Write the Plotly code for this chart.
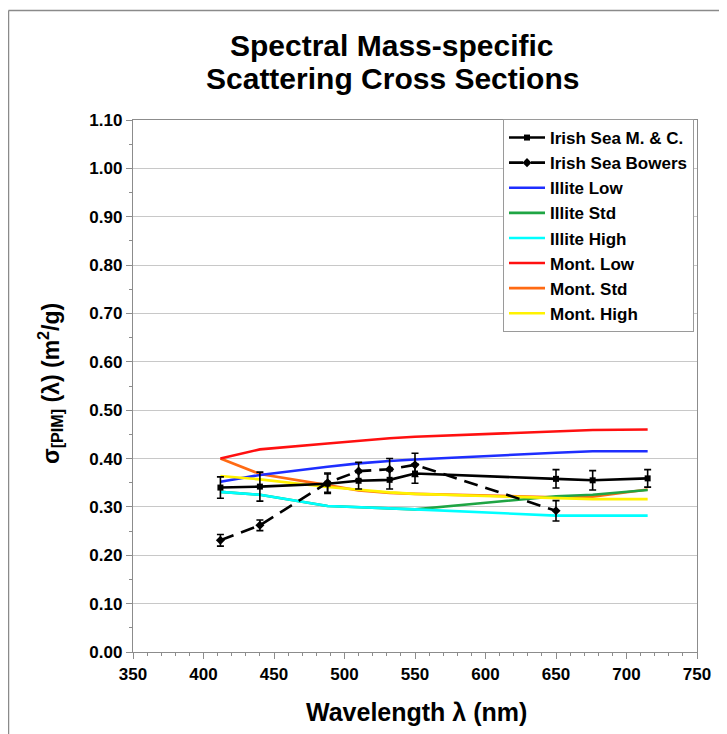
import plotly.graph_objects as go

# ---- data ----
wl = [412, 440, 488, 510, 532, 550, 650, 676, 715]
mc_vals = [0.340, 0.342, 0.348, 0.354, 0.356, 0.369, 0.358, 0.355, 0.359]
mc_err = [0.022, 0.030, 0.020, 0.017, 0.019, 0.020, 0.019, 0.020, 0.018]

wl_bowers = [412, 440, 488, 510, 532, 550, 650]
bowers_vals = [0.231, 0.262, 0.350, 0.374, 0.378, 0.387, 0.292]
bowers_err = [0.012, 0.011, 0.020, 0.018, 0.022, 0.024, 0.021]

illite_low = [0.352, 0.366, 0.383, 0.390, 0.395, 0.398, 0.412, 0.415, 0.415]
illite_std = [0.331, 0.325, 0.302, 0.299, 0.297, 0.295, 0.322, 0.325, 0.335]
illite_high = [0.331, 0.325, 0.302, 0.299, 0.297, 0.295, 0.282, 0.282, 0.282]
mont_low = [0.400, 0.419, 0.431, 0.437, 0.442, 0.445, 0.457, 0.459, 0.460]
mont_std = [0.400, 0.368, 0.345, 0.334, 0.329, 0.327, 0.320, 0.321, 0.336]
mont_high = [0.364, 0.357, 0.341, 0.335, 0.330, 0.327, 0.318, 0.316, 0.316]

x_ticks = [350, 400, 450, 500, 550, 600, 650, 700, 750]
title_lines = ["Spectral Mass-specific", "Scattering Cross Sections"]

FONT = "Liberation Sans, Arial, sans-serif"

fig = go.Figure()

# draw order (later on top); legend order via legendrank
model_series = [
    ("Mont. Std", mont_std, "#FF6A13", 7),
    ("Illite Std", illite_std, "#1FA544", 4),
    ("Illite High", illite_high, "#00FFFF", 5),
    ("Illite Low", illite_low, "#1E2EFF", 3),
    ("Mont. Low", mont_low, "#FF1010", 6),
    ("Mont. High", mont_high, "#FFF200", 8),
]
for name, vals, col, rank in model_series:
    fig.add_trace(go.Scatter(
        x=wl, y=vals, mode="lines", name=name,
        line=dict(color=col, width=2.6),
        legendrank=rank,
    ))

fig.add_trace(go.Scatter(
    x=wl_bowers, y=bowers_vals, mode="lines+markers", name="Irish Sea Bowers",
    line=dict(color="black", width=2.6, dash="14px,8px"),
    marker=dict(symbol="diamond", size=7, color="black"),
    error_y=dict(type="data", array=bowers_err, color="black", thickness=1.6, width=3.5),
    legendrank=2,
))
fig.add_trace(go.Scatter(
    x=wl, y=mc_vals, mode="lines+markers", name="Irish Sea M. &amp; C.",
    line=dict(color="black", width=2.6),
    marker=dict(symbol="square", size=6, color="black"),
    error_y=dict(type="data", array=mc_err, color="black", thickness=1.6, width=3.5),
    legendrank=1,
))

axis_common = dict(
    showline=True, linecolor="#8c8c8c", linewidth=1.3, mirror=True,
    ticks="outside", tickcolor="#8c8c8c", ticklen=6, tickwidth=1,
    tickfont=dict(family=FONT, size=17, color="black", weight="bold"),
    zeroline=False,
)

fig.update_xaxes(
    range=[350, 750], tickvals=x_ticks, showgrid=False,
    minor=dict(dtick=10, ticks="outside", ticklen=3, tickcolor="#8c8c8c", showgrid=False),
    **axis_common,
)
fig.update_yaxes(
    range=[0, 1.1], dtick=0.1, tickformat=".2f",
    showgrid=True, gridcolor="#c8c8c8", gridwidth=1,
    minor=dict(dtick=0.05, ticks="outside", ticklen=3, tickcolor="#8c8c8c", showgrid=False),
    **axis_common,
)

# page layout (the HTML body adds an 8px offset)
OFF = 8
PAGE_W, PAGE_H = 727, 734
W, H = PAGE_W - OFF, PAGE_H - OFF
PL, PR, PT, PB = 133, 697, 120, 652          # plot area in page pixels
L, T = PL - OFF, PT - OFF
R, B = W - (PR - OFF), H - (PB - OFF)
pw, ph = PR - PL, PB - PT

def px_x(p):
    return (p - PL) / pw

def px_y(p):
    return (PB - p) / ph

title_font = dict(family=FONT, size=30, color="black", weight="bold")

fig.update_layout(
    width=W, height=H,
    margin=dict(l=L, r=R, t=T, b=B, autoexpand=False),
    paper_bgcolor="white", plot_bgcolor="white",
    showlegend=True,
    legend=dict(
        x=px_x(503), y=px_y(119), xanchor="left", yanchor="top",
        bgcolor="white", bordercolor="#9a9a9a", borderwidth=1,
        font=dict(family=FONT, size=17, color="black", weight="bold"),
        itemwidth=36, tracegroupgap=0,
    ),
    annotations=[
        dict(text=title_lines[0], xref="paper", yref="paper",
             x=px_x(391), y=px_y(45), xanchor="center", yanchor="middle",
             showarrow=False, font=title_font),
        dict(text=title_lines[1], xref="paper", yref="paper",
             x=px_x(392), y=px_y(79), xanchor="center", yanchor="middle",
             showarrow=False, font=title_font),
        dict(text="Wavelength λ (nm)", xref="paper", yref="paper",
             x=px_x(416), y=px_y(712), xanchor="center", yanchor="middle", showarrow=False,
             font=dict(family=FONT, size=25, color="black", weight="bold")),
        dict(text="σ<sub>[PIM]</sub> (λ) (m<sup>2</sup>/g)", xref="paper", yref="paper",
             x=px_x(50), y=px_y(384), xanchor="center", yanchor="middle", showarrow=False,
             textangle=-90,
             font=dict(family=FONT, size=23, color="black", weight="bold")),
    ],
    shapes=[
        dict(type="line", xref="paper", yref="paper",
             x0=px_x(8.5), x1=px_x(760), y0=px_y(10.5), y1=px_y(10.5),
             line=dict(color="#8a8a8a", width=1.5)),
        dict(type="line", xref="paper", yref="paper",
             x0=px_x(8.5), x1=px_x(8.5), y0=px_y(10.5), y1=px_y(760),
             line=dict(color="#8a8a8a", width=1.5)),
    ],
)

fig.write_html("out.html")
